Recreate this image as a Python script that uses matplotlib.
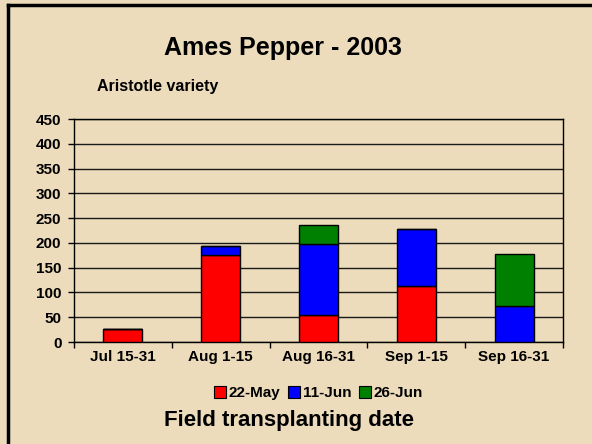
import matplotlib
matplotlib.use("Agg")
import matplotlib.pyplot as plt
import numpy as np
from matplotlib.lines import Line2D

categories = ["Jul 15-31", "Aug 1-15", "Aug 16-31", "Sep 1-15", "Sep 16-31"]
series_names = ["22-May", "11-Jun", "26-Jun"]
may22 = [27, 175, 55, 113, 0]
jun11 = [0, 19, 142, 116, 73]
jun26 = [0, 0, 39, 0, 105]
colors = ["#ff0000", "#0000ff", "#008000"]
yticks = [0, 50, 100, 150, 200, 250, 300, 350, 400, 450]

plt.rcParams['font.family'] = ['Liberation Sans', 'DejaVu Sans']
plt.rcParams['font.weight'] = 'bold'

bg = "#ecdcbc"
fig = plt.figure(figsize=(5.92, 4.44), dpi=100, facecolor=bg)
ax = fig.add_axes([74/592, 1-342/444, (563-74)/592, (342-119)/444])
ax.set_facecolor("none")

x = np.arange(len(categories))
bottom = np.zeros(len(categories))
for vals, c, name in zip([may22, jun11, jun26], colors, series_names):
    v = np.array(vals, dtype=float)
    ax.bar(x, v, width=0.4, bottom=bottom, color=c, edgecolor="black", linewidth=1, label=name, zorder=3)
    bottom += v

ax.set_xlim(-0.5, len(categories)-0.5)
ax.set_ylim(0, 450)
ax.set_yticks(yticks)
ax.set_yticklabels([str(t) for t in yticks], fontsize=11, fontweight='bold')
ax.yaxis.grid(True, color="#1a1a1a", linewidth=1, zorder=0)
ax.set_axisbelow(True)
ax.set_xticks(x)
ax.set_xticklabels(categories, fontsize=11, fontweight='bold')
ax.tick_params(axis='x', which='major', length=0, pad=6)
ax.set_xticks(np.arange(-0.5, len(categories), 1.0), minor=True)
ax.tick_params(axis='x', which='minor', length=4, direction='out', width=1)
ax.tick_params(axis='y', length=4, width=1, direction='out', pad=5)
for s in ax.spines.values():
    s.set_linewidth(1)
    s.set_color("black")

fig.text(283/592, 1-48/444, "Ames Pepper - 2003", ha='center', va='center', fontsize=18, fontweight='bold')
fig.text(97/592, 1-86/444, "Aristotle variety", ha='left', va='center', fontsize=11.5, fontweight='bold')
fig.text(289/592, 1-420/444, "Field transplanting date", ha='center', va='center', fontsize=16, fontweight='bold')

handles = [Line2D([0], [0], marker='s', linestyle='none', markersize=9, markerfacecolor=c,
                  markeredgecolor='black', markeredgewidth=0.8) for c in colors]
fig.legend(handles, series_names, loc='center', bbox_to_anchor=(318/592, 1-393/444), ncol=3,
           frameon=False, handletextpad=0.15, columnspacing=0.4, handlelength=0.9,
           prop={'weight': 'bold', 'size': 11})

fig.add_artist(Line2D([8/592, 8/592], [0, 1-5/444], transform=fig.transFigure, color='black', linewidth=2.5))
fig.add_artist(Line2D([8/592, 1], [1-5/444, 1-5/444], transform=fig.transFigure, color='black', linewidth=2.5))

fig.savefig("out.png", dpi=100, facecolor=bg)
